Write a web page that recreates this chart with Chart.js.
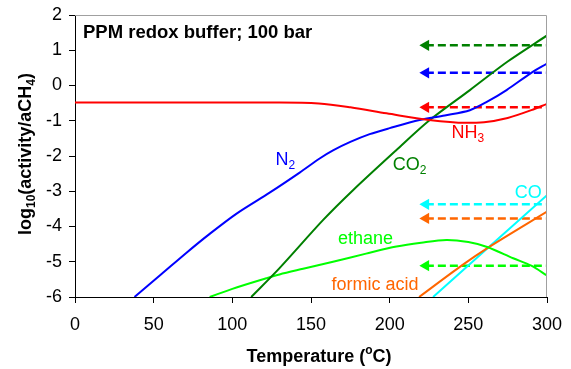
<!DOCTYPE html>
<html>
<head>
<meta charset="utf-8">
<script src="https://cdn.jsdelivr.net/npm/chart.js@4.4.1/dist/chart.umd.min.js"></script>
<style>
  body { margin: 0; background: #fff; }
  canvas { display: block; }
</style>
</head>
<body>
<canvas id="chart" width="571" height="369"></canvas>
<script>
// Temperatures (deg C) and log10(activity/aCH4)
const nh3Temp = [0, 50, 100, 130, 155, 175, 198, 225, 248, 260, 275, 290, 300];
const nh3Vals = [-0.48, -0.48, -0.48, -0.48, -0.51, -0.62, -0.79, -0.98, -1.06, -1.04, -0.92, -0.70, -0.52];

const n2Temp = [37.8, 55, 70.7, 85, 102.5, 123.7, 142.8, 155.5, 164, 175, 187.3, 200, 219, 235, 251, 262, 274.3, 290, 300];
const n2Vals = [-6, -5.35, -4.75, -4.23, -3.64, -3.04, -2.47, -2.07, -1.84, -1.60, -1.38, -1.21, -0.98, -0.85, -0.70, -0.46, -0.13, 0.36, 0.62];

const co2Temp = [112, 130, 157.6, 176.7, 204.3, 225.5, 251, 275, 300];
const co2Vals = [-6, -5.18, -3.82, -2.97, -1.83, -0.98, -0.13, 0.68, 1.42];

const ethaneTemp = [85.6, 100, 121.6, 130, 145, 164, 185, 204.3, 220, 236, 250, 262, 278.5, 290, 300];
const ethaneVals = [-6, -5.77, -5.47, -5.36, -5.20, -5.0, -4.77, -4.57, -4.46, -4.38, -4.44, -4.58, -4.9, -5.11, -5.39];

const formicTemp = [218.7, 245.7, 262.6, 300];
const formicVals = [-6, -5.11, -4.6, -3.58];

const coTemp = [227.6, 300];
const coVals = [-6, -3.11];

// dashed arrows at the right (from 300 back to ~220)
const arrowFrom = 300;
const arrowTo = 223;
const arrowLevels = [1.14, 0.36, -0.62, -3.37, -3.77, -5.11];

const xTicks = [0, 50, 100, 150, 200, 250, 300];
const yTicks = [-6, -5, -4, -3, -2, -1, 0, 1, 2];

const RED = "#ff0000", BLUE = "#0000ff", DKGREEN = "#008000",
      LIME = "#00ff00", CYAN = "#00ffff", ORANGE = "#ff6600";
const arrowColors = [DKGREEN, BLUE, RED, CYAN, ORANGE, LIME];

function pts(xs, ys) {
    return xs.map((x, i) => ({ x: x, y: ys[i] }));
}

function curve(label, xs, ys, color, mode) {
    return {
        label: label,
        data: pts(xs, ys),
        borderColor: color,
        borderWidth: 2,
        pointRadius: 0,
        tension: 0.3,
        cubicInterpolationMode: mode || "default",
        fill: false
    };
}

const datasets = [
    curve("NH3", nh3Temp, nh3Vals, RED, "monotone"),
    curve("N2", n2Temp, n2Vals, BLUE),
    curve("CO2", co2Temp, co2Vals, DKGREEN),
    curve("ethane", ethaneTemp, ethaneVals, LIME),
    curve("formic acid", formicTemp, formicVals, ORANGE),
    curve("CO", coTemp, coVals, CYAN)
];

arrowLevels.forEach((lvl, i) => {
    datasets.push({
        label: "arrow" + i,
        data: [{ x: arrowTo, y: lvl }, { x: arrowFrom, y: lvl }],
        borderColor: arrowColors[i],
        backgroundColor: arrowColors[i],
        borderWidth: 2.5,
        borderDash: [8, 4],
        pointStyle: "triangle",
        rotation: -90,
        pointRadius: [6.5, 0],
        pointBorderWidth: 0,
        fill: false
    });
});

// curve labels, placed in data coordinates (left edge, middle)
const curveLabels = [
    { parts: [["N", 0], ["2", 1]], x: 127.5, y: -2.12, color: BLUE },
    { parts: [["CO", 0], ["2", 1]], x: 202, y: -2.26, color: DKGREEN },
    { parts: [["NH", 0], ["3", 1]], x: 239.3, y: -1.36, color: RED },
    { parts: [["CO", 0]], x: 279.5, y: -3.04, color: CYAN },
    { parts: [["ethane", 0]], x: 167.2, y: -4.36, color: LIME },
    { parts: [["formic acid", 0]], x: 163, y: -5.66, color: ORANGE }
];

const FONT = "Liberation Sans, Arial, sans-serif";

// draws text with sub (1) / super (-1) scripts
function drawRich(ctx, parts, x, y, size, bold, align) {
    const w = bold ? "bold " : "";
    const small = Math.round(size * 0.68);
    let total = 0;
    parts.forEach(p => {
        ctx.font = w + (p[1] ? small : size) + "px " + FONT;
        total += ctx.measureText(p[0]).width;
    });
    let cx = align === "center" ? x - total / 2 : x;
    ctx.textAlign = "left";
    ctx.textBaseline = "middle";
    parts.forEach(p => {
        ctx.font = w + (p[1] ? small : size) + "px " + FONT;
        let dy = 0;
        if (p[1] === 1) dy = size * 0.3;
        if (p[1] === -1) dy = -size * 0.35;
        ctx.fillText(p[0], cx, y + dy);
        cx += ctx.measureText(p[0]).width;
    });
}

const textPlugin = {
    id: "texts",
    afterDraw(chart) {
        const ctx = chart.ctx;
        const a = chart.chartArea;
        const xs = chart.scales.x, ys = chart.scales.y;
        ctx.save();
        // grey frame on top and right
        ctx.strokeStyle = "#a0a0a0";
        ctx.lineWidth = 1;
        ctx.beginPath();
        ctx.moveTo(a.left, a.top + 0.5);
        ctx.lineTo(a.right - 0.5, a.top + 0.5);
        ctx.lineTo(a.right - 0.5, a.bottom);
        ctx.stroke();

        ctx.fillStyle = "#000";
        drawRich(ctx, [["PPM redox buffer; 100 bar", 0]], 83, 33, 18.5, true, "left");

        curveLabels.forEach(l => {
            ctx.fillStyle = l.color;
            drawRich(ctx, l.parts, xs.getPixelForValue(l.x), ys.getPixelForValue(l.y), 18, false, "left");
        });

        // axis titles
        ctx.fillStyle = "#000";
        drawRich(ctx, [["Temperature (", 0], ["o", -1], ["C)", 0]], 319, 357, 18, true, "center");
        ctx.translate(26, 154);
        ctx.rotate(-Math.PI / 2);
        drawRich(ctx, [["log", 0], ["10", 1], ["(activity/aCH", 0], ["4", 1], [")", 0]], 0, 0, 18, true, "center");
        ctx.restore();
    }
};

const axisFont = { family: FONT, size: 18 };

new Chart(document.getElementById("chart"), {
    type: "line",
    data: { datasets: datasets },
    options: {
        responsive: false,
        animation: false,
        layout: { padding: { left: 0, right: 24, top: 15, bottom: 0 } },
        plugins: { legend: { display: false }, tooltip: { enabled: false } },
        scales: {
            x: {
                type: "linear",
                min: 0, max: 300,
                afterBuildTicks: s => { s.ticks = xTicks.map(v => ({ value: v })); },
                afterFit: s => { s.height = 72; s.paddingLeft = 0; s.paddingRight = 0; },
                ticks: { color: "#000", font: axisFont, padding: 11, maxRotation: 0 },
                grid: { drawOnChartArea: false, drawTicks: true, tickLength: 6, color: "#000" },
                border: { color: "#000", width: 1 }
            },
            y: {
                type: "linear",
                min: -6, max: 2,
                afterBuildTicks: s => { s.ticks = yTicks.map(v => ({ value: v })); },
                afterFit: s => { s.width = 75; s.paddingTop = 0; s.paddingBottom = 0; },
                ticks: { color: "#000", font: axisFont, padding: 7 },
                grid: { drawOnChartArea: false, drawTicks: true, tickLength: 6, color: "#000" },
                border: { color: "#000", width: 1 }
            }
        }
    },
    plugins: [textPlugin]
});
</script>
</body>
</html>
